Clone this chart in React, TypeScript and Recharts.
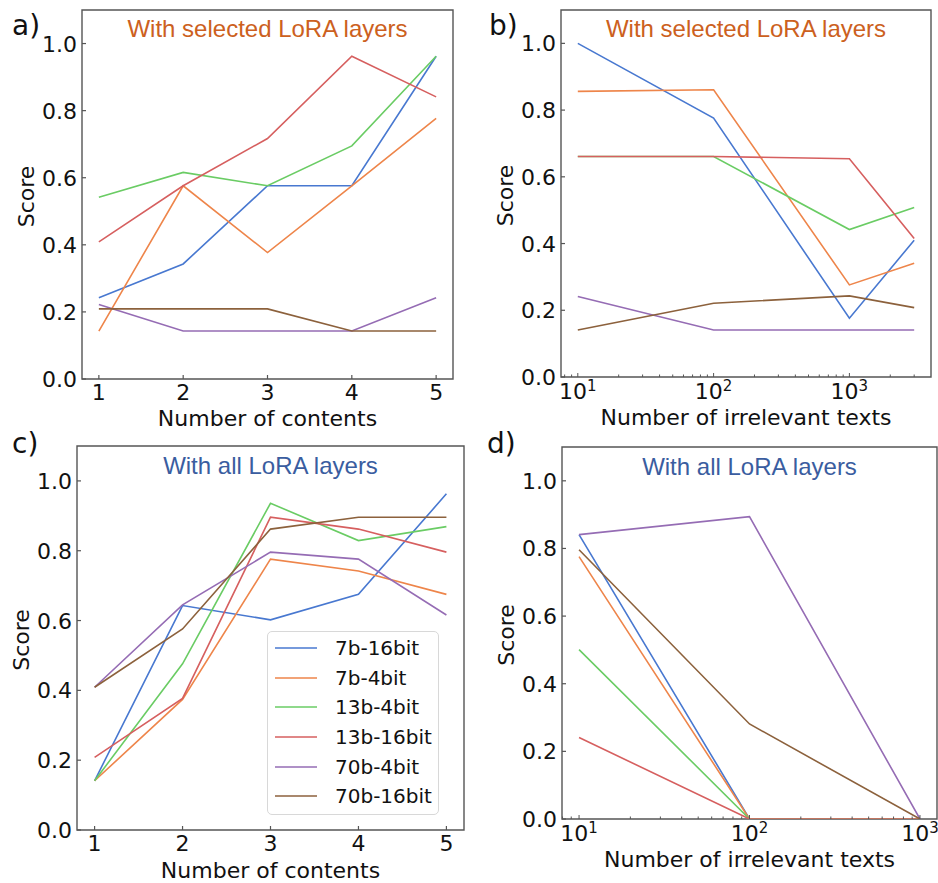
import React from 'react';
import { LineChart, Line, XAxis, YAxis, ReferenceArea, Legend } from 'recharts';

const W = 938;
const H = 883;
const YW = 60;
const XH = 50;
const TM = 6;
const FONT = 'DejaVu Sans, sans-serif';
const FRAME = '#555';

const seriesNames = ['7b-16bit', '7b-4bit', '13b-4bit', '13b-16bit', '70b-4bit', '70b-16bit'];
const seriesColors = ['#4878d0', '#ee854a', '#6acc64', '#d65f5f', '#956cb4', '#8c613c'];

const contents = [1, 2, 3, 4, 5];
const irrelevantSelected = [10, 100, 1000, 3000];
const irrelevantAll = [10, 100, 1000];
const scoreTicks = [0, 0.2, 0.4, 0.6, 0.8, 1.0];

// one row per series, same order as seriesNames
const selectedByContents = [
  [0.242, 0.343, 0.576, 0.576, 0.962],
  [0.143, 0.576, 0.377, 0.576, 0.777],
  [0.542, 0.616, 0.576, 0.695, 0.962],
  [0.409, 0.576, 0.717, 0.962, 0.841],
  [0.222, 0.143, 0.143, 0.143, 0.242],
  [0.209, 0.209, 0.209, 0.143, 0.143],
];

const selectedByIrrelevant = [
  [1.0, 0.776, 0.176, 0.41],
  [0.856, 0.861, 0.276, 0.341],
  [0.661, 0.661, 0.442, 0.508],
  [0.661, 0.661, 0.654, 0.415],
  [0.241, 0.141, 0.141, 0.141],
  [0.141, 0.221, 0.243, 0.208],
];

const allByContents = [
  [0.141, 0.643, 0.602, 0.675, 0.963],
  [0.141, 0.374, 0.776, 0.742, 0.675],
  [0.141, 0.476, 0.936, 0.829, 0.869],
  [0.208, 0.377, 0.896, 0.862, 0.796],
  [0.409, 0.645, 0.796, 0.776, 0.616],
  [0.409, 0.576, 0.862, 0.896, 0.896],
];

const allByIrrelevant = [
  [0.841, 0, 0],
  [0.776, 0, 0],
  [0.501, 0, 0],
  [0.241, 0, 0],
  [0.841, 0.894, 0],
  [0.796, 0.281, 0],
];

// log axis tick positions (majors + minors)
const logTicksB = [8, 9, 10, 20, 30, 40, 50, 60, 70, 80, 90, 100, 200, 300, 400, 500, 600, 700, 800, 900, 1000, 2000, 3000];
const logTicksD = [8, 9, 10, 20, 30, 40, 50, 60, 70, 80, 90, 100, 200, 300, 400, 500, 600, 700, 800, 900, 1000];

const LinTick = (props: any) => {
  const { x, y, payload } = props;
  const axisY = y - TM;
  return (
    <g>
      <line x1={x} x2={x} y1={axisY} y2={axisY - 4} stroke={FRAME} strokeWidth={1.2} />
      <text x={x} y={axisY + 21} textAnchor="middle" fontSize={22} fontFamily={FONT} fill="#111">
        {payload.value}
      </text>
    </g>
  );
};

const LogTick = (props: any) => {
  const { x, y, payload } = props;
  const axisY = y - TM;
  const exp = Math.log10(payload.value);
  const major = Math.abs(exp - Math.round(exp)) < 1e-6;
  return (
    <g>
      <line x1={x} x2={x} y1={axisY} y2={axisY - (major ? 4 : 2.5)} stroke={FRAME} strokeWidth={1} />
      {major && (
        <text x={x} y={axisY + 22} textAnchor="middle" fontSize={22} fontFamily={FONT} fill="#111">
          10
          <tspan dy={-8} fontSize={15}>{Math.round(exp)}</tspan>
        </text>
      )}
    </g>
  );
};

const ScoreTick = (props: any) => {
  const { x, y, payload } = props;
  const axisX = x + TM;
  return (
    <g>
      <line x1={axisX} x2={axisX + 4} y1={y} y2={y} stroke={FRAME} strokeWidth={1.2} />
      <text x={axisX - 5} y={y + 8} textAnchor="end" fontSize={22} fontFamily={FONT} fill="#111">
        {payload.value.toFixed(1)}
      </text>
    </g>
  );
};

const renderLegend = (props: any) => {
  // keep the plotting order rather than the alphabetical default
  const items = [...(props.payload || [])].sort(
    (a: any, b: any) => seriesNames.indexOf(a.value) - seriesNames.indexOf(b.value)
  );
  return (
    <div
      style={{
        width: 172,
        height: 184,
        boxSizing: 'border-box',
        border: '1.5px solid #d8d8d8',
        borderRadius: 5,
        background: 'rgba(255,255,255,0.85)',
        paddingTop: 1,
        fontFamily: FONT,
        fontSize: 20,
        color: '#111',
      }}
    >
      {items.map((entry: any) => (
        <div key={entry.value} style={{ display: 'flex', alignItems: 'center', height: 29.7 }}>
          <svg width={60} height={6} style={{ marginLeft: 7 }}>
            <line x1={0} x2={42} y1={3} y2={3} stroke={entry.color} strokeWidth={1.6} />
          </svg>
          <span>{entry.value}</span>
        </div>
      ))}
    </div>
  );
};

type Box = { left: number; right: number; top: number; bottom: number };

function Panel(props: {
  box: Box;
  xs: number[];
  values: number[][];
  log: boolean;
  domain: [number, number];
  ticks: number[];
  title: string;
  titleColor: string;
  titleOffset: number;
  xLabel: string;
  xLabelOffset: number;
  legend?: boolean;
}) {
  const { box, xs, values, log, domain, ticks, title, titleColor, titleOffset, xLabel, xLabelOffset, legend } = props;
  const data = xs.map((x, i) => {
    const row: any = { x };
    values.forEach((s, k) => {
      row['s' + k] = s[i];
    });
    return row;
  });
  const margin = { left: box.left - YW, right: W - box.right, top: box.top, bottom: H - box.bottom - XH };

  return (
    <div style={{ position: 'absolute', left: 0, top: 0 }}>
      <LineChart width={W} height={H} data={data} margin={margin}>
        <XAxis
          dataKey="x"
          type="number"
          scale={log ? 'log' : 'linear'}
          domain={domain}
          ticks={ticks}
          interval={0}
          allowDataOverflow
          axisLine={false}
          tickLine={false}
          tickSize={0}
          tickMargin={TM}
          height={XH}
          tick={(p: any) => (log ? <LogTick {...p} /> : <LinTick {...p} />)}
          label={{
            content: (p: any) => {
              const vb = p.viewBox;
              return (
                <text
                  x={vb.x + vb.width / 2}
                  y={vb.y + XH - xLabelOffset}
                  textAnchor="middle"
                  fontSize={22}
                  fontFamily={FONT}
                  fill="#111"
                >
                  {xLabel}
                </text>
              );
            },
          }}
        />
        <YAxis
          type="number"
          domain={[0, 1.1]}
          ticks={scoreTicks}
          interval={0}
          allowDataOverflow
          axisLine={false}
          tickLine={false}
          tickSize={0}
          tickMargin={TM}
          width={YW}
          tick={(p: any) => <ScoreTick {...p} />}
          label={{
            content: (p: any) => {
              const vb = p.viewBox;
              const cx = vb.x + vb.width - 48;
              const cy = vb.y + vb.height / 2 + 2;
              return (
                <text
                  x={cx}
                  y={cy}
                  transform={`rotate(-90 ${cx} ${cy})`}
                  textAnchor="middle"
                  fontSize={22}
                  fontFamily={FONT}
                  fill="#111"
                >
                  Score
                </text>
              );
            },
          }}
        />
        <ReferenceArea
          x1={domain[0]}
          x2={domain[1]}
          y1={0}
          y2={1.1}
          fill="none"
          stroke={FRAME}
          strokeWidth={1.4}
          label={{
            value: title,
            position: 'insideTop',
            offset: titleOffset,
            fill: titleColor,
            fontSize: 24,
            fontFamily: 'Liberation Sans, Arial, sans-serif',
          }}
        />
        {seriesNames.map((name, k) => (
          <Line
            key={name}
            name={name}
            dataKey={'s' + k}
            type="linear"
            stroke={seriesColors[k]}
            strokeWidth={1.6}
            dot={false}
            activeDot={false}
            isAnimationActive={false}
          />
        ))}
        {legend && (
          <Legend
            layout="vertical"
            align="center"
            verticalAlign="middle"
            content={renderLegend}
            wrapperStyle={{ left: 267, top: 631, width: 172, height: 184 }}
          />
        )}
      </LineChart>
    </div>
  );
}

const panelLetters = [
  { text: 'a)', x: 12, y: 35 },
  { text: 'b)', x: 489, y: 35 },
  { text: 'c)', x: 12, y: 453 },
  { text: 'd)', x: 487, y: 453 },
];

export default function App() {
  return (
    <div style={{ position: 'absolute', left: 0, top: 0, width: W, height: H, background: '#fff', overflow: 'hidden' }}>
      <Panel
        box={{ left: 82, right: 453, top: 10, bottom: 379 }}
        xs={contents}
        values={selectedByContents}
        log={false}
        domain={[0.8, 5.2]}
        ticks={contents}
        title="With selected LoRA layers"
        titleColor="#cc6020"
        titleOffset={10}
        xLabel="Number of contents"
        xLabelOffset={3}
      />
      <Panel
        box={{ left: 561, right: 931, top: 10, bottom: 377 }}
        xs={irrelevantSelected}
        values={selectedByIrrelevant}
        log={true}
        domain={[7.52, 3990]}
        ticks={logTicksB}
        title="With selected LoRA layers"
        titleColor="#cc6020"
        titleOffset={10}
        xLabel="Number of irrelevant texts"
        xLabelOffset={2}
      />
      <Panel
        box={{ left: 77, right: 464, top: 446, bottom: 830 }}
        xs={contents}
        values={allByContents}
        log={false}
        domain={[0.8, 5.2]}
        ticks={contents}
        title="With all LoRA layers"
        titleColor="#3a5da0"
        titleOffset={11}
        xLabel="Number of contents"
        xLabelOffset={2}
        legend
      />
      <Panel
        box={{ left: 562, right: 937, top: 447, bottom: 819 }}
        xs={irrelevantAll}
        values={allByIrrelevant}
        log={true}
        domain={[7.943, 1258.9]}
        ticks={logTicksD}
        title="With all LoRA layers"
        titleColor="#3a5da0"
        titleOffset={11}
        xLabel="Number of irrelevant texts"
        xLabelOffset={2}
      />
      <svg width={W} height={H} style={{ position: 'absolute', left: 0, top: 0, pointerEvents: 'none' }}>
        {panelLetters.map((l) => (
          <text key={l.text} x={l.x} y={l.y} fontSize={28} fontFamily={FONT} fill="#111">
            {l.text}
          </text>
        ))}
      </svg>
    </div>
  );
}
